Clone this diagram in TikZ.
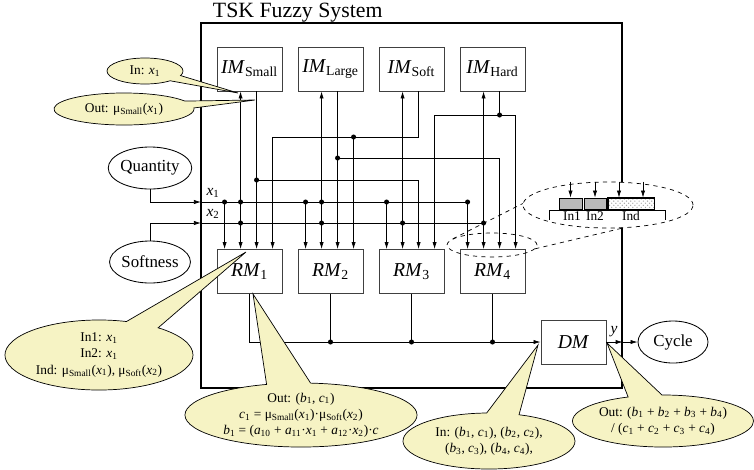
\documentclass[tikz,border=0pt]{standalone}
\usepackage{fontspec}
\setmainfont{Liberation Serif}
\usetikzlibrary{arrows.meta,shapes.geometric,shapes.callouts,patterns}

\definecolor{notefill}{RGB}{246,243,196}
\newcommand{\iv}[2]{\textit{#1}\textsubscript{#2}}
\newcommand{\mus}[2]{μ\textsubscript{#1}(\textit{x}\textsubscript{#2})}

\tikzset{
  module/.style={draw=black!75, line width=0.6pt, minimum width=1.625cm, minimum height=1.1cm, inner sep=0pt, font=\fontsize{14}{16}\selectfont},
  ioell/.style={draw, ellipse, line width=0.6pt, minimum width=1.75cm, minimum height=1.05cm, inner sep=0pt, font=\fontsize{12}{14}\selectfont},
  wire/.style={line width=0.5pt},
  sig/.style={wire, -{Latex[length=5pt,width=3pt]}},
  junc/.style={circle, fill, inner sep=0pt, minimum size=3.6pt},
  note/.style={ellipse callout, draw, fill=notefill, line width=0.5pt, inner sep=0pt, align=center, callout pointer arc=22, font=\fontsize{9.5}{11.5}\selectfont},
  lens/.style={draw, dashed, ellipse, inner sep=0pt, line width=0.5pt},
  reg/.style={draw, line width=0.5pt, minimum height=0.275cm, inner sep=0pt},
}

\begin{document}
\begin{tikzpicture}[x=0.025cm, y=-0.025cm]
\useasboundingbox (0,0) rectangle (754,469);

% system frame
\node[anchor=base west, font=\fontsize{15.5}{18}\selectfont] (title) at (208,17) {TSK Fuzzy System};
\node[draw, line width=0.9pt, minimum width=10.525cm, minimum height=9.125cm, inner sep=0pt] (sys) at (411.5,205.5) {};

% IM and RM modules, four taps on top of every RM
\foreach \n [count=\i] in {Small,Large,Soft,Hard} {
  \node[module] (im\i) at ({168.5+81*\i},69) {\iv{IM}{\n}};
  \node[module] (rm\i) at ({168.5+81*\i},271.5) {\iv{RM}{\i}};
  \path (rm\i.north west) ++(8,0) coordinate (t\i1) ++(16,0) coordinate (t\i2)
        ++(16,0) coordinate (t\i3) ++(16,0) coordinate (t\i4);
}
\node[module] (dm) at (573.5,342) {\textit{DM}};

\node[ioell] (qty) at (150,168) {Quantity};
\node[ioell] (soft) at (150,262) {Softness};
\node[ioell] (cyc) at (673,342) {Cycle};

% rails
\coordinate (x1in) at (201,202);
\coordinate (x2in) at (201,223);
\coordinate (railA) at (0,115);
\coordinate (railB) at (0,137);
\coordinate (railC) at (0,158);
\coordinate (railD) at (0,180);

% inputs x1, x2
\draw[sig] (qty.south) |- (x1in);
\draw[sig] (soft.north) |- (x2in);
\draw[wire] (x1in) -- (t41 |- x1in);
\draw[wire] (x2in) -- (t42 |- x2in);
\node[font=\fontsize{11}{13}\selectfont] (lx1) at (213,193) {\iv{x}{1}};
\node[font=\fontsize{11}{13}\selectfont] (lx2) at (213,214) {\iv{x}{2}};

% x1 straight into the first tap
\foreach \i in {1,...,4}
  \draw[sig] (t\i1 |- x1in) node[junc] (ja\i) {} -- (t\i1);

% IM inputs, also second tap
\foreach \i/\bus in {1/x1in,2/x1in,3/x2in,4/x2in} {
  \draw[sig] (t\i2 |- \bus) -- (im\i.south -| t\i2);
  \draw[sig] (t\i2 |- \bus) -- (t\i2);
  \node[junc] (jb\i) at (t\i2 |- x2in) {};
}
\node[junc] (jc1) at (t12 |- x1in) {};
\node[junc] (jc2) at (t22 |- x1in) {};

% IM outputs
\draw[sig] (im1.south -| t13) -- (t13);
\draw[sig] (t13 |- railD) node[junc] (jd1) {} -| (t33);
\draw[sig] (im2.south -| t23) -- (t23);
\draw[sig] (t23 |- railC) node[junc] (jd2) {} -| (t43);
\draw[sig] (im3.south -| t33) |- (t14 |- railB) -- (t14);
\draw[sig] (t24 |- railB) node[junc] (jd3) {} -- (t24);
\draw[wire] (im4.south -| t43) -- (t43 |- railA) node[junc] (jd4) {};
\draw[sig] (t43 |- railA) -| (t34);
\draw[sig] (t43 |- railA) -| (t44);

% RM outputs to DM
\draw[sig] (rm1.south) |- (dm.west);
\foreach \i in {2,3,4}
  \draw[wire] (rm\i.south) -- (rm\i.south |- dm.west) node[junc] (je\i) {};

% output y
\draw[sig] (dm.east) -- (dm.east -| sys.east);
\draw[sig] (dm.east -| sys.east) -- (cyc.west);
\node[font=\fontsize{11}{13}\selectfont] (ly) at (614,332) {\textit{y}};

% rule register seen through the lens
\node[lens, minimum width=2.25cm, minimum height=0.6cm] (zoomA) at (492,245) {};
\node[lens, fill=white, minimum width=4.25cm, minimum height=1.15cm] (zoomB) at (608,205) {};
\draw[dashed, line width=0.5pt] (zoomA.171) -- (zoomB.179);
\draw[dashed, line width=0.5pt] (zoomA.355) -- (zoomB.303);
\draw[wire] (549,220) -- (549,210) -- (665,210) -- (665,220);
\node[reg, fill=gray!55, minimum width=0.575cm] (regA) at (570.5,203.5) {};
\node[reg, fill=gray!55, minimum width=0.55cm] (regB) at (595,203.5) {};
\node[reg, fill=gray!20, pattern color=gray!70, pattern=crosshatch dots, minimum width=1.15cm] (regC) at (631,203.5) {};
\draw[reg] (regC.south west) rectangle (regC.north east);
\draw[sig] (regA.north |- zoomB.north) -- (regA.north);
\draw[sig] (regB.north |- zoomB.north) -- (regB.north);
\draw[sig] ([xshift=-0.3cm]regC.north |- zoomB.north) -- ([xshift=-0.3cm]regC.north);
\draw[sig] ([xshift=0.3cm]regC.north |- zoomB.north) -- ([xshift=0.3cm]regC.north);
\node[font=\fontsize{9.5}{11}\selectfont] (lIn1) at (572,216) {In1};
\node[font=\fontsize{9.5}{11}\selectfont] (lIn2) at (595,216) {In2};
\node[font=\fontsize{9.5}{11}\selectfont] (lInd) at (631,216) {Ind};

% notes
\node[note, callout pointer arc=28, minimum width=1.9cm, minimum height=0.65cm,
  callout absolute pointer={(238,93)}] (nIm) at (145,71) {In: \iv{x}{1}};
\node[note, callout pointer arc=26, minimum width=3.5cm, minimum height=0.8cm,
  callout absolute pointer={(255,100)}] (nImOut) at (124,109) {Out: \mus{Small}{1}};
\node[note, minimum width=4.7cm, minimum height=1.75cm,
  callout absolute pointer={(246,252)}] (nRm) at (99,355)
  {In1: \iv{x}{1}\\ In2: \iv{x}{1}\\ Ind: \mus{Small}{1}, \mus{Soft}{2}};
\node[note, minimum width=5.8cm, minimum height=1.6cm,
  callout absolute pointer={(253,294)}] (nRmOut) at (301,415)
  {Out: (\iv{b}{1}, \iv{c}{1})\\ \iv{c}{1} = \mus{Small}{1}·\mus{Soft}{2}\\
   \iv{b}{1} = (\iv{a}{10} + \iv{a}{11}·\iv{x}{1} + \iv{a}{12}·\iv{x}{2})·\textit{c}};
\node[note, minimum width=4.3cm, minimum height=1.4cm,
  callout absolute pointer={(538,345)}] (nDm) at (489,441)
  {In: (\iv{b}{1}, \iv{c}{1}), (\iv{b}{2}, \iv{c}{2}),\\ (\iv{b}{3}, \iv{c}{3}), (\iv{b}{4}, \iv{c}{4}),};
\node[note, minimum width=4.5cm, minimum height=1.3cm,
  callout absolute pointer={(607,343)}] (nDmOut) at (663,421)
  {Out: (\iv{b}{1} + \iv{b}{2} + \iv{b}{3} + \iv{b}{4})\\ / (\iv{c}{1} + \iv{c}{2} + \iv{c}{3} + \iv{c}{4})};
\end{tikzpicture}
\end{document}
